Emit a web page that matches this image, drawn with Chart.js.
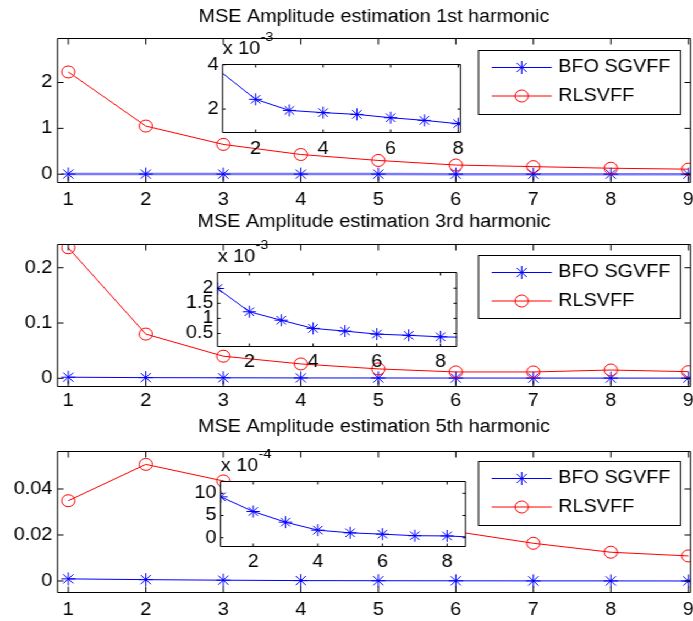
<!DOCTYPE html>
<html>
<head>
<meta charset="utf-8">
<title>MSE Amplitude estimation</title>
<script src="https://cdn.jsdelivr.net/npm/chart.js@4/dist/chart.umd.min.js"></script>
<style>
  html, body { margin: 0; padding: 0; background: #fff; }
  #frame { position: relative; width: 693px; height: 621px; overflow: hidden; background: #fff; }
  /* the figure is laid out on a slightly narrower grid and widened horizontally */
  #fig { position: absolute; left: 0; top: 0; width: 630px; height: 621px; transform: scaleX(1.1); transform-origin: 0 0; }
  .pane { position: absolute; }
</style>
</head>
<body>
<div id="frame"><div id="fig"></div></div>
<script>
// ---------------------------------------------------------------- data
const steps = [1, 2, 3, 4, 5, 6, 7, 8, 9];

// 1st harmonic
const rlsvff1   = [2.23, 1.05, 0.65, 0.43, 0.30, 0.20, 0.165, 0.13, 0.11];
const bfoSgvff1 = [3.64, 2.44, 1.94, 1.84, 1.76, 1.61, 1.49, 1.34, 1.25];      // x 1e-3

// 3rd harmonic
const rlsvff3   = [0.236, 0.080, 0.040, 0.026, 0.017, 0.0115, 0.0115, 0.015, 0.012];
const bfoSgvff3 = [1.99, 1.22, 0.94, 0.67, 0.58, 0.48, 0.44, 0.39, 0.37];      // x 1e-3

// 5th harmonic
const rlsvff5   = [0.0349, 0.0507, 0.0435, 0.035, 0.027, 0.0215, 0.0164, 0.0125, 0.0109];
const bfoSgvff5 = [9.2, 5.9, 3.5, 1.7, 1.1, 0.8, 0.45, 0.4, 0.05];            // x 1e-4

const seriesNames = ['BFO SGVFF', 'RLSVFF'];
const titles = [
  'MSE Amplitude estimation 1st harmonic',
  'MSE Amplitude estimation 3rd harmonic',
  'MSE Amplitude estimation 5th harmonic'
];

// tick values
const xTicks       = [1, 2, 3, 4, 5, 6, 7, 8, 9];
const insetXTicks  = [2, 4, 6, 8];
const yTicks1      = [0, 1, 2];
const insetYTicks1 = [2, 4];
const yTicks3      = [0, 0.1, 0.2];
const insetYTicks3 = [0.5, 1, 1.5, 2];
const yTicks5      = [0, 0.02, 0.04];
const insetYTicks5 = [0, 5, 10];

// ---------------------------------------------------------------- style
const SX = 1.1;                       // horizontal stretch applied to #fig
const FAMILY = '"Liberation Sans", Arial, Helvetica, sans-serif';
const FS = 18;
const LH = FS * 1.2;
const BLUE = '#0000ff';
const RED = '#ff0000';
Chart.defaults.font.family = FAMILY;

const fig = document.getElementById('fig');

function drawMarker(ctx, style, x, y, r, color) {
  ctx.save();
  ctx.strokeStyle = color;
  ctx.lineWidth = 1;
  ctx.beginPath();
  if (style === 'star') {
    const d = r * Math.SQRT1_2;
    ctx.moveTo(x - r, y); ctx.lineTo(x + r, y);
    ctx.moveTo(x, y - r); ctx.lineTo(x, y + r);
    ctx.moveTo(x - d, y - d); ctx.lineTo(x + d, y + d);
    ctx.moveTo(x - d, y + d); ctx.lineTo(x + d, y - d);
  } else {
    ctx.arc(x, y, r, 0, Math.PI * 2);
  }
  ctx.stroke();
  ctx.restore();
}

function bfoSet(values, scale, opt) {
  return {
    label: seriesNames[0],
    data: steps.map((x, i) => ({ x, y: values[i] * scale })),
    borderColor: opt.lineColor || BLUE,
    borderWidth: opt.lineWidth || 1,
    pointStyle: 'star',
    pointRadius: opt.radius,
    pointBorderColor: BLUE,
    pointBackgroundColor: BLUE,
    pointBorderWidth: 1,
    tension: 0,
    order: 1,
    clip: opt.clip
  };
}

function rlsSet(values) {
  return {
    label: seriesNames[1],
    data: steps.map((x, i) => ({ x, y: values[i] })),
    borderColor: RED,
    borderWidth: 1,
    pointStyle: 'circle',
    pointRadius: 6,
    pointBorderColor: RED,
    pointBackgroundColor: 'rgba(0,0,0,0)',
    pointBorderWidth: 1,
    tension: 0,
    order: 0
  };
}

// one MATLAB-like axes: box, inward ticks on all four sides, optional legend / exponent
function makeAxes(cfg) {
  const box = cfg.box;
  const cl = Math.floor((box.l - cfg.pad.l) / SX);
  const ct = Math.floor(box.t - cfg.pad.t);
  const cw = Math.ceil((box.r + cfg.pad.r) / SX) - cl;
  const ch = Math.ceil(box.b + cfg.pad.b) - ct;
  const areaL = box.l / SX - cl, areaR = box.r / SX - cl;
  const areaT = box.t - ct, areaB = box.b - ct;

  const holder = document.createElement('div');
  holder.className = 'pane';
  holder.style.left = cl + 'px';
  holder.style.top = ct + 'px';
  holder.style.width = cw + 'px';
  holder.style.height = ch + 'px';
  const cv = document.createElement('canvas');
  holder.appendChild(cv);
  fig.appendChild(holder);

  let titleOpt = { display: false };
  if (cfg.title) {
    const pt = cfg.titleY - ct - LH / 2;
    titleOpt = {
      display: true, text: cfg.title, fullSize: false, color: '#000',
      font: { family: FAMILY, size: FS, weight: 'normal' },
      padding: { top: pt, bottom: areaT - pt - LH }
    };
  }

  const tickFont = { family: FAMILY, size: FS };
  const axesPlugin = {
    id: 'matlabAxes',
    beforeDraw(chart) {
      const a = chart.chartArea, c = chart.ctx;
      c.save();
      c.fillStyle = '#fff';
      c.fillRect(a.left, a.top, a.right - a.left, a.bottom - a.top);
      c.restore();
    },
    afterDatasetsDraw(chart) {
      const a = chart.chartArea, c = chart.ctx;
      const xs = chart.scales.x, ys = chart.scales.y;
      const tl = cfg.tickLen;
      c.save();
      c.strokeStyle = '#000';
      c.lineWidth = 1;
      c.beginPath();
      c.rect(a.left, a.top, a.right - a.left, a.bottom - a.top);
      cfg.x.ticks.forEach(v => {
        if (v < xs.min || v > xs.max) return;
        const p = xs.getPixelForValue(v);
        c.moveTo(p, a.bottom); c.lineTo(p, a.bottom - tl);
        c.moveTo(p, a.top); c.lineTo(p, a.top + tl);
      });
      cfg.y.ticks.forEach(v => {
        if (v < ys.min || v > ys.max) return;
        const p = ys.getPixelForValue(v);
        c.moveTo(a.left, p); c.lineTo(a.left + tl / SX, p);
        c.moveTo(a.right, p); c.lineTo(a.right - tl / SX, p);
      });
      c.stroke();
      c.restore();
    },
    afterDraw(chart) {
      const c = chart.ctx, a = chart.chartArea;
      if (cfg.exponent) {
        c.save();
        c.fillStyle = '#000';
        c.textAlign = 'left';
        c.textBaseline = 'alphabetic';
        c.font = FS + 'px ' + FAMILY;
        const x0 = a.left + 0.3;
        c.fillText('x 10', x0, a.top - 11);
        const w = c.measureText('x 10').width;
        c.font = '13px ' + FAMILY;
        c.fillText(cfg.exponent, x0 + w + 0.3, a.top - 24);
        c.restore();
      }
      if (cfg.legend) {
        const lg = cfg.legend;
        const L = lg.l / SX - cl, R = lg.r / SX - cl, T = lg.t - ct, B = lg.b - ct;
        c.save();
        c.fillStyle = '#fff';
        c.fillRect(L, T, R - L, B - T);
        c.strokeStyle = '#000';
        c.lineWidth = 1;
        c.strokeRect(L, T, R - L, B - T);
        const entries = [
          { name: seriesNames[0], color: BLUE, marker: 'star', r: 6.5, dy: 17 },
          { name: seriesNames[1], color: RED, marker: 'circle', r: 6, dy: 45.5 }
        ];
        entries.forEach(e => {
          const y = T + e.dy;
          const x1 = L + 13.2 / SX, x2 = L + 73.2 / SX, xm = L + 43.2 / SX;
          c.strokeStyle = e.color;
          c.beginPath(); c.moveTo(x1, y); c.lineTo(x2, y); c.stroke();
          drawMarker(c, e.marker, xm, y, e.r, e.color);
          c.fillStyle = '#000';
          c.font = FS + 'px ' + FAMILY;
          c.textAlign = 'left';
          c.textBaseline = 'middle';
          c.fillText(e.name, L + 79.8 / SX, y);
        });
        c.restore();
      }
    }
  };

  return new Chart(cv, {
    type: 'line',
    data: { datasets: cfg.datasets },
    options: {
      responsive: true,
      maintainAspectRatio: false,
      animation: false,
      devicePixelRatio: 1,
      events: [],
      layout: { padding: { left: 0, right: cw - areaR, top: cfg.title ? 0 : areaT, bottom: 0 } },
      plugins: { legend: { display: false }, tooltip: { enabled: false }, title: titleOpt },
      scales: {
        x: {
          type: 'linear', min: cfg.x.min, max: cfg.x.max,
          grid: { display: false, drawTicks: false }, border: { display: false },
          ticks: {
            autoSkip: false, maxRotation: 0, minRotation: 0, color: '#000', font: tickFont,
            padding: cfg.xLabelY - box.b - LH / 2, callback: v => String(v)
          },
          afterBuildTicks: s => { s.ticks = cfg.x.ticks.map(v => ({ value: v })); },
          afterFit: s => { s.height = ch - areaB; }
        },
        y: {
          type: 'linear', min: cfg.y.min, max: cfg.y.max,
          grid: { display: false, drawTicks: false }, border: { display: false },
          ticks: {
            autoSkip: false, color: '#000', font: tickFont,
            padding: cfg.yLabelGap / SX, callback: v => String(v)
          },
          afterBuildTicks: s => { s.ticks = cfg.y.ticks.map(v => ({ value: v })); },
          afterFit: s => { s.width = areaL; }
        }
      }
    },
    plugins: [axesPlugin]
  });
}

const mainX = { min: 0.861, max: 9.028, ticks: xTicks };
const hideOutside = c => (c.parsed && c.parsed.x < c.chart.scales.x.min ? 0 : 6);

// ---- 1st harmonic
makeAxes({
  title: titles[0], titleY: 17,
  box: { l: 57.5, t: 38.5, r: 690.5, b: 182.5 }, pad: { l: 57.5, t: 38.5, r: 40, b: 34 },
  x: mainX, y: { min: -0.181, max: 2.96, ticks: yTicks1 },
  xLabelY: 200.5, yLabelGap: 5.3, tickLen: 6,
  legend: { l: 478.5, t: 50.5, r: 680.5, b: 114.5 },
  datasets: [
    bfoSet(bfoSgvff1, 1e-3, { radius: 6.5, lineColor: '#7a7aff', lineWidth: 2.5 }),
    rlsSet(rlsvff1)
  ]
});
makeAxes({
  box: { l: 222.5, t: 64.5, r: 460.5, b: 132.5 }, pad: { l: 45, t: 40, r: 15, b: 30 },
  x: { min: 1.02, max: 8.07, ticks: insetXTicks }, y: { min: 0.944, max: 4.01, ticks: insetYTicks1 },
  xLabelY: 149, yLabelGap: 4, tickLen: 3, exponent: '-3',
  datasets: [bfoSet(bfoSgvff1, 1, { radius: hideOutside, clip: 0 })]
});

// ---- 3rd harmonic
makeAxes({
  title: titles[1], titleY: 221.7,
  box: { l: 57.5, t: 244.5, r: 690.5, b: 386.5 }, pad: { l: 57.5, t: 44.5, r: 40, b: 34 },
  x: mainX, y: { min: -0.0148, max: 0.242, ticks: yTicks3 },
  xLabelY: 401.5, yLabelGap: 5.3, tickLen: 6,
  legend: { l: 478.5, t: 255.5, r: 680.5, b: 318.5 },
  datasets: [
    bfoSet(bfoSgvff3, 1e-3, { radius: 6.5 }),
    rlsSet(rlsvff3)
  ]
});
makeAxes({
  box: { l: 217.5, t: 272.5, r: 456.5, b: 346.5 }, pad: { l: 45, t: 40, r: 15, b: 30 },
  x: { min: 1.0, max: 8.5, ticks: insetXTicks }, y: { min: 0.07, max: 2.52, ticks: insetYTicks3 },
  xLabelY: 361.7, yLabelGap: 4, tickLen: 3, exponent: '-3',
  datasets: [bfoSet(bfoSgvff3, 1, { radius: 6, clip: 0 })]
});

// ---- 5th harmonic
makeAxes({
  title: titles[2], titleY: 426.7,
  box: { l: 57.5, t: 451.5, r: 690.5, b: 592.5 }, pad: { l: 57.5, t: 46.5, r: 40, b: 30 },
  x: mainX, y: { min: -0.005, max: 0.0563, ticks: yTicks5 },
  xLabelY: 610.5, yLabelGap: 5.3, tickLen: 6,
  legend: { l: 478.5, t: 461.5, r: 680.5, b: 525.5 },
  datasets: [
    bfoSet(bfoSgvff5, 1e-4, { radius: 6.5 }),
    rlsSet(rlsvff5)
  ]
});
makeAxes({
  box: { l: 220.5, t: 481.5, r: 465.5, b: 546.5 }, pad: { l: 45, t: 40, r: 15, b: 30 },
  x: { min: 0.99, max: 8.57, ticks: insetXTicks }, y: { min: -1.98, max: 12.66, ticks: insetYTicks5 },
  xLabelY: 562.5, yLabelGap: 4, tickLen: 3, exponent: '-4',
  datasets: [bfoSet(bfoSgvff5, 1, { radius: 6, clip: 0 })]
});
</script>
</body>
</html>
